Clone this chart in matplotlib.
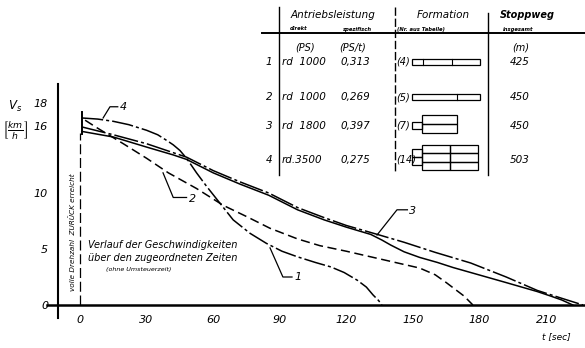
"""
Verlauf der Geschwindigkeiten beim Stoppmanöver (vier Schubverbände).
Output: out.png
"""
import matplotlib
matplotlib.use("Agg")
import matplotlib.pyplot as plt
from matplotlib.patches import Rectangle

plt.rcParams["font.family"] = "DejaVu Sans"
plt.rcParams["font.style"] = "italic"

# ── curves (t in s, v in km/h) ───────────────────────────────────────────────
t1 = [0.8, 8, 15, 22, 30, 35, 39, 42, 45, 48, 52.5, 57, 63, 69, 76.6, 84, 91,
      98, 106, 113, 119, 125, 129, 132, 134.5, 136]
v1 = [16.7, 16.6, 16.4, 16.1, 15.6, 15.2, 14.7, 14.3, 13.8, 13.1, 11.8, 10.6,
      9.1, 7.6, 6.4, 5.5, 4.8, 4.3, 3.8, 3.4, 2.9, 2.2, 1.6, 0.9, 0.4, 0.0]

t2 = [2.3, 7, 12, 19.5, 30, 39.8, 52.5, 64.5, 75, 85.6, 98, 108, 120, 131,
      142, 153, 160, 165, 169, 173, 177]
v2 = [16.5, 15.9, 15.3, 14.4, 13.1, 11.8, 10.4, 8.9, 7.9, 6.85, 5.9, 5.3, 4.8,
      4.3, 3.8, 3.3, 2.7, 2.0, 1.4, 0.8, 0.0]

t3 = [0.8, 15, 30, 42, 48, 60, 72, 85, 98, 110, 120, 131, 136, 140, 146, 153,
      161, 168, 176, 184, 192, 199, 206, 212, 217, 222]
v3 = [15.5, 15.0, 14.1, 13.4, 13.0, 11.8, 10.8, 9.8, 8.5, 7.6, 6.95, 6.3, 5.8,
      5.35, 4.75, 4.25, 3.8, 3.35, 2.9, 2.45, 2.0, 1.6, 1.2, 0.8, 0.45, 0.0]

t4 = [0.8, 15, 30, 42, 48, 60, 72, 85, 98, 110, 120, 134, 146, 160, 176, 192,
      206, 217, 226.6]
v4 = [15.9, 15.2, 14.4, 13.6, 13.2, 12.0, 11.0, 10.0, 8.7, 7.8, 7.1, 6.3, 5.6,
      4.7, 3.75, 2.5, 1.3, 0.6, 0.0]

x_ticks = [0, 30, 60, 90, 120, 150, 180, 210]
y_ticks = [0, 5, 10, 16, 18]

# curve labels: text, tip on curve, elbow of leader, text position
curve_labels = ["1", "2", "3", "4"]
label_tips   = [(85.6, 5.1), (37.4, 11.8), (133.8, 6.25), (10.4, 16.7)]
label_elbows = [(91.4, 2.5), (42.0, 9.6), (142.8, 8.5), (13.5, 17.7)]
label_pos    = [(98.0, 2.5), (50.5, 9.5), (150.0, 8.4), (19.5, 17.7)]

# table contents
row_nr      = ["1", "2", "3", "4"]
ps_direkt   = ["rd  1000", "rd  1000", "rd  1800", "rd.3500"]
ps_spez     = ["0,313", "0,269", "0,397", "0,275"]
form_nr     = ["(4)", "(5)", "(7)", "(14)"]
stoppweg    = [425, 450, 450, 503]
row_y       = [62, 97, 126, 160]

# ── figure ───────────────────────────────────────────────────────────────────
fig = plt.figure(figsize=(5.85, 3.48), dpi=100)
ax = fig.add_axes([44.5 / 585, 26.2 / 348, 540.5 / 585, 240.8 / 348])
ax.set_xlim(-16, 227.5)
ax.set_ylim(-1.5, 20)

lw = 1.1
kw = dict(color="k", lw=lw, solid_joinstyle="round", dash_joinstyle="round")
ax.plot(t1, v1, ls=(0, (14, 2, 2, 2)), **kw)
ax.plot(t2, v2, ls=(0, (6, 3)), **kw)
ax.plot(t3, v3, **kw)
ax.plot(t4, v4, ls=(0, (16, 2, 2, 2)), **kw)

# "volle Drehzahl ZURÜCK erreicht" marker at t = 0
ax.plot([0, 0], [0, 15.4], color="k", lw=0.9, ls=(0, (8, 3)))
ax.plot([0.8, 0.8], [15.3, 17.2], color="k", lw=1.4)
ax.text(-3.3, 6.5, "volle Drehzahl  ZURÜCK erreicht", rotation=90,
        fontsize=5.2, ha="center", va="center")

for s, tip, elb, pos in zip(curve_labels, label_tips, label_elbows, label_pos):
    ax.plot([tip[0], elb[0], pos[0] - 2.5], [tip[1], elb[1], elb[1]],
            color="k", lw=0.9)
    ax.text(pos[0], pos[1], s, fontsize=8, ha="center", va="center")

# axes
for side in ("top", "right"):
    ax.spines[side].set_visible(False)
ax.spines["left"].set_position(("data", -10))
ax.spines["left"].set_bounds(-1.2, 19.7)
ax.spines["bottom"].set_position(("data", 0))
ax.spines["bottom"].set_bounds(-15, 227.5)
ax.spines["left"].set_linewidth(1.5)
ax.spines["bottom"].set_linewidth(1.8)

ax.set_xticks(x_ticks)
ax.set_xticklabels([str(x) for x in x_ticks])
ax.set_yticks(y_ticks)
ax.set_yticklabels([str(y) for y in y_ticks])
ax.tick_params(length=0, pad=7, labelsize=8)
ax.patch.set_alpha(0)

ax.text(3.5, 5.4, "Verlauf der Geschwindigkeiten", fontsize=7, va="center")
ax.text(3.5, 4.2, "über den zugeordneten Zeiten", fontsize=7, va="center")
ax.text(11.5, 3.15, "(ohne Umsteuerzeit)", fontsize=4.6, va="center")

# ── overlay in pixel coordinates for labels and table ─────────────────────────
ov = fig.add_axes([0, 0, 1, 1])
ov.set_xlim(0, 585)
ov.set_ylim(348, 0)
ov.axis("off")
ov.patch.set_alpha(0)

ov.text(15, 106, "$V_s$", fontsize=8.5, ha="center", va="center")
ov.text(15, 131, r"$\left[\frac{km}{h}\right]$", fontsize=9.5, ha="center", va="center")
ov.text(556, 337, "t [sec]", fontsize=6.5, ha="center", va="center")

# table frame
ov.plot([262, 585], [33, 33], color="k", lw=1.4)
ov.plot([279, 279], [7, 175], color="k", lw=1.0)
ov.plot([395, 395], [7, 173], color="k", lw=1.0, ls=(0, (6, 2)))
ov.plot([488, 488], [13, 175], color="k", lw=1.0)

ov.text(333, 15, "Antriebsleistung", fontsize=7.5, ha="center", va="center")
ov.text(290, 29, "direkt", fontsize=3.8, ha="left", va="center", weight="bold")
ov.text(343, 29, "spezifisch", fontsize=3.8, ha="left", va="center", weight="bold")
ov.text(443, 15, "Formation", fontsize=7.5, ha="center", va="center")
ov.text(397, 29, "(Nr. aus Tabelle)", fontsize=3.8, ha="left", va="center", weight="bold")
ov.text(527, 15, "Stoppweg", fontsize=7, ha="center", va="center", weight="bold")
ov.text(503, 29, "insgesamt", fontsize=3.8, ha="left", va="center", weight="bold")

ov.text(305, 47, "(PS)", fontsize=7, ha="center", va="center")
ov.text(353, 47, "(PS/t)", fontsize=7, ha="center", va="center")
ov.text(521, 47, "(m)", fontsize=7, ha="center", va="center")

for nr, pd_, ps, fn, sw, y in zip(row_nr, ps_direkt, ps_spez, form_nr, stoppweg, row_y):
    ov.text(269, y, nr, fontsize=7.5, ha="center", va="center")
    ov.text(282, y, pd_, fontsize=7.5, ha="left", va="center")
    ov.text(340, y, ps, fontsize=7.5, ha="left", va="center")
    ov.text(396, y, fn, fontsize=7, ha="left", va="center")
    ov.text(520, y, str(sw), fontsize=7.5, ha="center", va="center")


def box(x0, y0, w, h, ls="-"):
    ov.add_patch(Rectangle((x0, y0), w, h, fill=False, ec="k", lw=0.9, ls=ls))


# formation sketches (pusher + barges)
box(412, 59, 68, 6)
ov.plot([423, 423], [59, 65], color="k", lw=0.8)
ov.plot([452, 452], [59, 65], color="k", lw=0.8)
box(412, 94, 68, 6)
ov.plot([457, 457], [94, 100], color="k", lw=0.8)
box(412, 122, 10, 7)
box(422, 115, 35, 9)
box(422, 124, 35, 9)
box(412, 149, 10, 8)
box(412, 157, 10, 8)
for r in range(3):
    for c in range(2):
        box(422 + 28 * c, 145 + 8.3 * r, 28, 8.3)

fig.savefig("out.png", dpi=100)
